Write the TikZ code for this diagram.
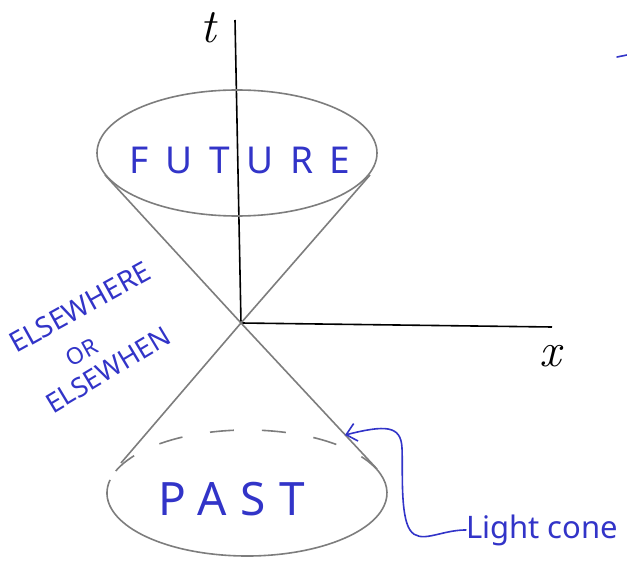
\documentclass[tikz,border=0pt]{standalone}
\usepackage{fontspec}
\usetikzlibrary{arrows.meta}
\newfontfamily\handfont{Noto Sans}
\newfontfamily\handwide[LetterSpace=45]{Noto Sans}
\newfontfamily\handpast[LetterSpace=30]{Noto Sans}
\definecolor{ink}{RGB}{50,52,200}
\definecolor{conegray}{RGB}{125,125,125}
\tikzset{
  axisline/.style={line width=1.6pt, black},
  coneline/.style={line width=1.6pt, conegray},
  bluetext/.style={text=ink, inner sep=0pt},
  axislabel/.style={inner sep=0pt, font=\fontsize{48}{48}\selectfont\itshape},
  bluestroke/.style={line width=1.6pt, ink, line cap=round, line join=round},
}
\begin{document}
\begin{tikzpicture}[x=1pt,y=-1pt]
\useasboundingbox (0,0) rectangle (627,564);
% axes
\coordinate (O) at (241,323);
\coordinate (ttop) at (235,20);
\coordinate (xend) at (552,327);
\draw[axisline] (ttop) -- (O) -- (xend);
\node[axislabel] (tlab) at (208,28) {t};
\node[axislabel] (xlab) at (550,356) {x};
% cone lines
\coordinate (tl) at (105,175);
\coordinate (tr) at (370,175);
\coordinate (bl) at (121,463);
\coordinate (br) at (377,469);
\draw[coneline] (tl) -- (O) -- (br);
\draw[coneline] (tr) -- (O) -- (bl);
% top ellipse
\draw[coneline] (237,153) ellipse [x radius=140, y radius=63];
% bottom ellipse: front solid, back dashed
\draw[coneline] (247,493) ++(192:140 and 63) arc[start angle=192, end angle=-22, x radius=140, y radius=63];
\draw[coneline, dash pattern=on 24pt off 28pt, dash phase=4pt] (247,493) ++(-22:140 and 63) arc[start angle=-22, end angle=-165, x radius=140, y radius=63];
% labels
\node[bluetext] (future) at (240,160) {\fontsize{37}{37}\selectfont\handwide FUTURE};
\node[bluetext] (past) at (232,499) {\fontsize{46}{46}\selectfont\handpast PAST};
\node[bluetext, rotate=29] (else1) at (80,307) {\fontsize{28}{28}\selectfont\handfont ELSEWHERE};
\node[bluetext, rotate=29] (else2) at (82,352) {\fontsize{23}{23}\selectfont\handfont OR};
\node[bluetext, rotate=31] (else3) at (108,370) {\fontsize{27}{27}\selectfont\handfont ELSEWHEN};
\node[bluetext, anchor=base west] (light) at (466,538) {\fontsize{31}{31}\selectfont\handfont Light cone};
% arrow
\coordinate (tip) at (345,435);
\draw[bluestroke, -{Straight Barb[length=10pt,width=18pt]}] (light.west) .. controls (440,530) and (420,545) .. (410,530)
  .. controls (400,515) and (403,470) .. (402,448)
  .. controls (401,425) and (385,425) .. (tip);
% stray mark
\coordinate (m1) at (617,57);
\coordinate (m2) at (627,55);
\draw[bluestroke] (m1) -- (m2);
\end{tikzpicture}
\end{document}
